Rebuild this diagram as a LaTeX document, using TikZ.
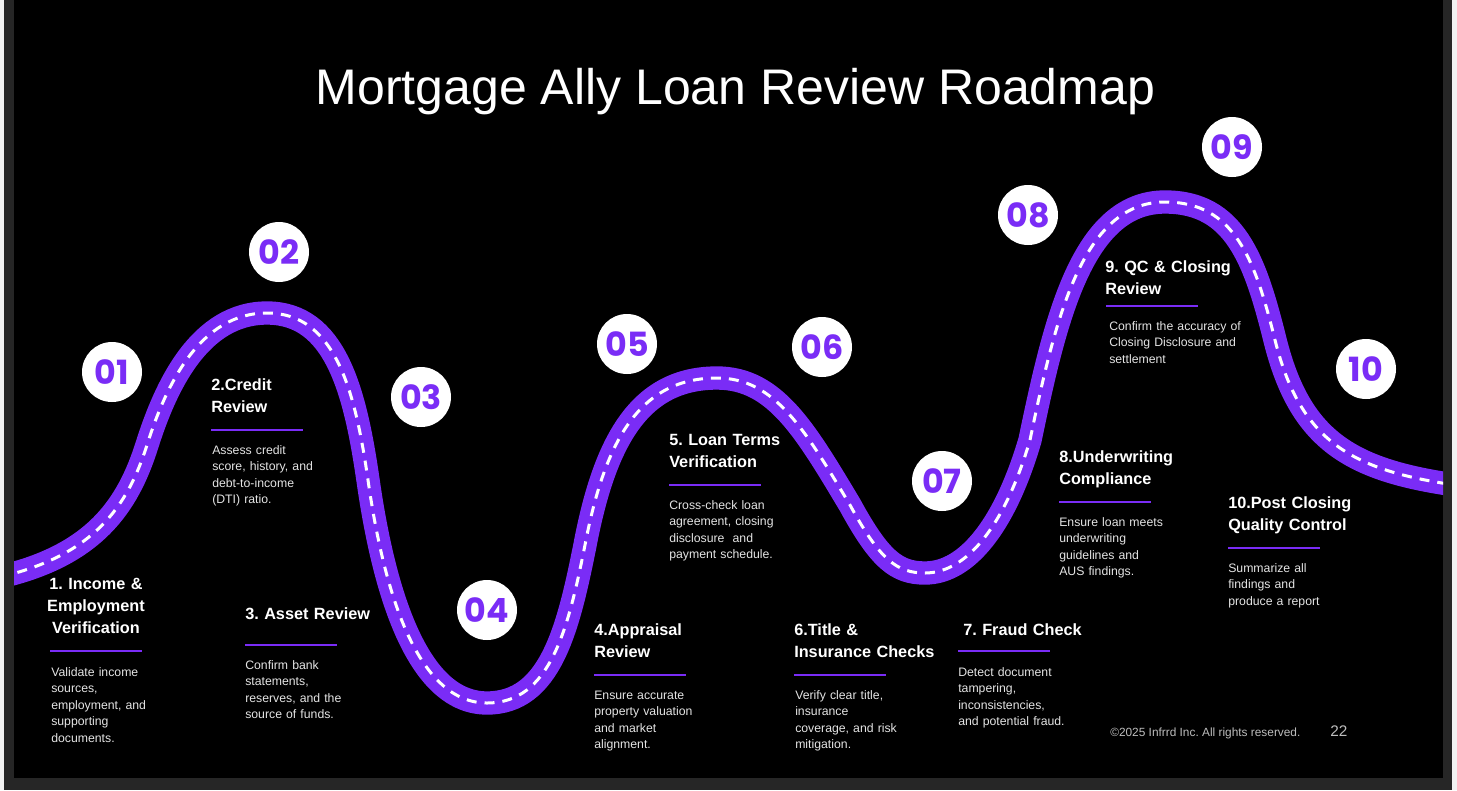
\documentclass[tikz,border=0pt]{standalone}
\usepackage{fontspec}
\setmainfont{Liberation Sans}
\newfontfamily\popfont{Poppins}
\frenchspacing
\definecolor{roadc}{HTML}{7A2CF6}
\definecolor{descc}{HTML}{E4E4E4}
\definecolor{footc}{HTML}{BDBDBD}
\definecolor{framec}{HTML}{262626}
\definecolor{outc}{HTML}{F2F2F2}
\tikzset{
  numc/.style={circle, fill=white, minimum size=45pt, inner sep=0pt, text=roadc,
    font=\popfont\bfseries\fontsize{25}{25}\selectfont},
  ttl/.style={anchor=base west, inner sep=0pt, text=white, align=left, text width=150pt,
    font=\bfseries\frenchspacing\fontsize{12.2}{16.5}\selectfont},
  dsc/.style={anchor=base west, inner sep=0pt, text=descc, align=left, text width=150pt,
    font=\frenchspacing\fontsize{9.2}{12.4}\selectfont},
  uline/.style={draw=roadc, line width=1.5pt},
  roadline/.style={draw=roadc, line width=17.5pt,
    postaction={draw=white, line width=2.25pt, dash pattern=on 7.5pt off 6pt}}
}
\begin{document}
\begin{tikzpicture}[x=0.75pt,y=-0.75pt]
\useasboundingbox (0,0) rectangle (1457,790);
\fill[outc] (0,0) rectangle (1457,790);
\fill[framec] (4,0) rectangle (1452,790);
\fill[black] (14,0) rectangle (1443,778);

% road
\begin{scope}
\clip (14,0) rectangle (1443,778);
\draw[roadline] (0,577) .. controls (95,555) and (128,505) .. (147,445)
  .. controls (166,385) and (200,313) .. (267,313)
  .. controls (335,313) and (355,390) .. (368,480)
  .. controls (385,600) and (420,703) .. (487,703)
  .. controls (550,703) and (568,630) .. (585,545)
  .. controls (605,440) and (640,378) .. (717,378)
  .. controls (775,378) and (805,430) .. (850,505)
  .. controls (880,560) and (897,573) .. (925,573)
  .. controls (967,573) and (1005,525) .. (1030,440)
  .. controls (1055,320) and (1082,202) .. (1165,202)
  .. controls (1235,202) and (1255,260) .. (1275,340)
  .. controls (1300,440) and (1350,470) .. (1455,485);
\end{scope}

% title
\node[anchor=base, inner sep=0pt, text=white, font=\fontsize{37.5}{45}\selectfont] (title) at (735.5,104) {Mortgage Ally Loan Review Roadmap};

% number circles
\node[numc] (c01) at (112,372) {01};
\node[numc] (c02) at (279,252) {02};
\node[numc] (c03) at (421,397) {03};
\node[numc] (c04) at (487,610) {04};
\node[numc] (c05) at (627,344) {05};
\node[numc] (c06) at (822,347) {06};
\node[numc] (c07) at (942,481) {07};
\node[numc] (c08) at (1028,215) {08};
\node[numc] (c09) at (1232,147) {09};
\node[numc] (c10) at (1366,369) {10};

% step 1
\node[ttl, anchor=base, align=center, text width=90pt] (t1) at (96,589) {1. Income \&\\Employment\\Verification};
\draw[uline] (50,651) -- (142,651);
\node[dsc] (d1) at (51,676) {Validate income\\sources,\\employment, and\\supporting\\documents.};
% step 2
\node[ttl] (t2) at (211,390) {2.Credit\\Review};
\draw[uline] (211,430) -- (303,430);
\node[dsc] (d2) at (212,454) {Assess credit\\score, history, and\\debt-to-income\\(DTI) ratio.};
% step 3
\node[ttl] (t3) at (245,619) {3. Asset Review};
\draw[uline] (245,645) -- (337,645);
\node[dsc] (d3) at (245,669) {Confirm bank\\statements,\\reserves, and the\\source of funds.};
% step 4
\node[ttl] (t4) at (594,635) {4.Appraisal\\Review};
\draw[uline] (594,675) -- (686,675);
\node[dsc] (d4) at (594,699) {Ensure accurate\\property valuation\\and market\\alignment.};
% step 5
\node[ttl] (t5) at (669,445) {5. Loan Terms\\Verification};
\draw[uline] (669,485) -- (761,485);
\node[dsc] (d5) at (669,509) {Cross-check loan\\agreement, closing\\disclosure~ and\\payment schedule.};
% step 6
\node[ttl] (t6) at (794,635) {6.Title \&\\Insurance Checks};
\draw[uline] (794,675) -- (886,675);
\node[dsc] (d6) at (795,699) {Verify clear title,\\insurance\\coverage, and risk\\mitigation.};
% step 7
\node[ttl] (t7) at (963,635) {7. Fraud Check};
\draw[uline] (958,651) -- (1050,651);
\node[dsc] (d7) at (958,676) {Detect document\\tampering,\\inconsistencies,\\and potential fraud.};
% step 8
\node[ttl] (t8) at (1059,462) {8.Underwriting\\Compliance};
\draw[uline] (1059,502) -- (1151,502);
\node[dsc] (d8) at (1059,526) {Ensure loan meets\\underwriting\\guidelines and\\AUS findings.};
% step 9
\node[ttl] (t9) at (1105,272) {9. QC \& Closing\\Review};
\draw[uline] (1106,306) -- (1198,306);
\node[dsc] (d9) at (1109,330) {Confirm the accuracy of\\Closing Disclosure and\\settlement};
% step 10
\node[ttl] (t10) at (1228,508) {10.Post Closing\\Quality Control};
\draw[uline] (1228,548) -- (1320,548);
\node[dsc] (d10) at (1228,572) {Summarize all\\findings and\\produce a report};

% footer
\node[anchor=base west, inner sep=0pt, text=footc, font=\fontsize{8.9}{10}\selectfont] (foot) at (1110,736) {©2025 Infrrd Inc. All rights reserved.};
\node[anchor=base west, inner sep=0pt, text=footc, font=\fontsize{11.5}{12}\selectfont] (pg) at (1330,736.5) {22};
\end{tikzpicture}
\end{document}
